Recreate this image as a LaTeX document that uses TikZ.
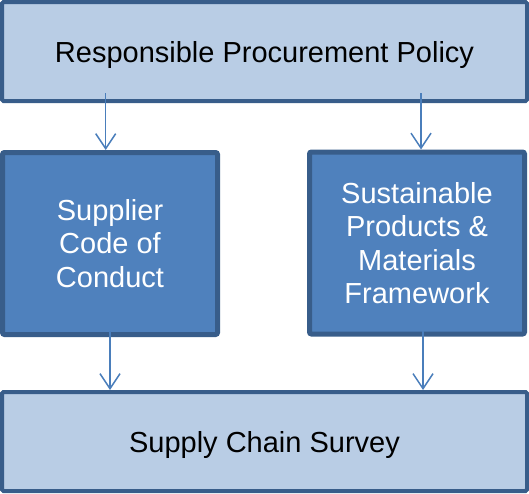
\documentclass[tikz,border=0pt]{standalone}
\usepackage{fontspec}
\setmainfont{Liberation Sans}
\usepackage{tikz}
\usetikzlibrary{arrows.meta,calc}

\definecolor{lightfill}{HTML}{B9CDE5}
\definecolor{darkline}{HTML}{385D8A}
\definecolor{midfill}{HTML}{4F81BD}
\definecolor{linkcol}{HTML}{4A7EBB}

\begin{document}
\begin{tikzpicture}[x = 1pt, y = -1pt,
	outer/.style = {draw = darkline, fill = lightfill, line width = 4pt, rounded corners = 1.5pt,
		minimum width = 525pt, minimum height = 99pt, inner sep = 0pt, text depth = 0pt,
		font = \fontsize{29}{33.5}\selectfont},
	inner/.style = {draw = darkline, fill = midfill, line width = 5pt, rounded corners = 2pt,
		minimum width = 215pt, minimum height = 182pt, inner sep = 0pt, align = center,
		text = white, font = \fontsize{29}{33.5}\selectfont},
	link/.style = {draw = linkcol, line width = 1.5pt, -{Straight Barb[length=15pt, width=20pt]}}
]
\useasboundingbox (0,0) rectangle (529,493);

\node [outer] (policy) at (264.5,51.5) {Responsible Procurement Policy};
\node [inner] (code) at (110,243.5) {Supplier\\Code of\\Conduct};
\node [inner] (framework) at (417,243) {Sustainable\\Products \&\\Materials\\Framework};
\node [outer] (survey) at (264.5,441.5) {Supply Chain Survey};

% \m gives the column of the arrow
\foreach \a/\b/\m/\dx/\up in {policy/code/code/-4.3/10, policy/framework/framework/4/10,
	code/survey/code/0/6, framework/survey/framework/6/6}
	{
		\draw [link] ($(\a.south -| \m.north)+(\dx,-\up)$) -- ($(\b.north -| \m.north)+(\dx,0)$);
	}

\end{tikzpicture}
\end{document}
